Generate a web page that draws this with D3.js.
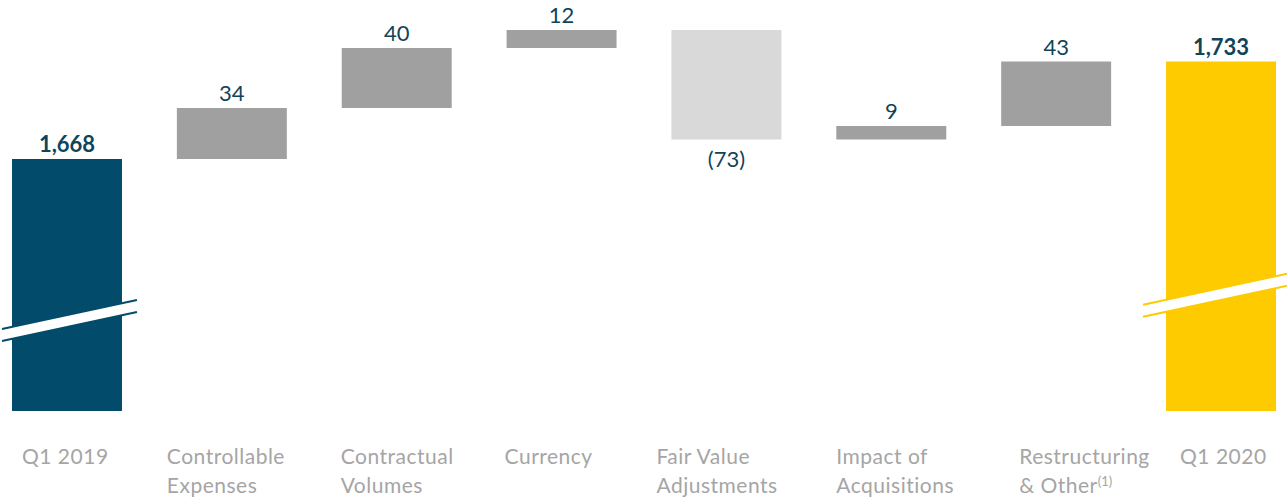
<!DOCTYPE html>
<html>
<head>
<meta charset="utf-8">
<script src="https://cdn.jsdelivr.net/npm/d3@7"></script>
<style>
  body { margin: 0; background: #fff; }
  text { font-family: Lato, "Open Sans", sans-serif; }
</style>
</head>
<body>
<div id="chart"></div>
<script>
// chart data
var categories = ["Q1 2019", "Controllable Expenses", "Contractual Volumes", "Currency",
                  "Fair Value Adjustments", "Impact of Acquisitions", "Restructuring & Other", "Q1 2020"];
var labelLines = [["Q1 2019"], ["Controllable", "Expenses"], ["Contractual", "Volumes"], ["Currency"],
                  ["Fair Value", "Adjustments"], ["Impact of", "Acquisitions"], ["Restructuring", "& Other"], ["Q1 2020"]];
var values = [1668, 34, 40, 12, -73, 9, 43, 1733];
var kinds = ["start", "delta", "delta", "delta", "delta", "delta", "delta", "end"];
var valueLabels = ["1,668", "34", "40", "12", "(73)", "9", "43", "1,733"];
var breakValues = [1560, null, null, null, null, null, null, 1578];

var W = 1287, H = 498;
var svg = d3.select("#chart").append("svg").attr("width", W).attr("height", H);

var x = d3.scaleBand().domain(categories).range([12, 1276]).paddingInner(0.333).paddingOuter(0);
var y = d3.scaleLinear().domain([1500, 1770]).range([411, 6]);

// build waterfall rows
var run = 0;
var rows = categories.map(function (c, i) {
  var v = values[i], lo, hi;
  if (kinds[i] == "delta") {
    lo = Math.min(run, run + v); hi = Math.max(run, run + v);
    run += v;
  } else {
    lo = 1500; hi = v; run = v;
  }
  return { cat: c, i: i, v: v, lo: lo, hi: hi, kind: kinds[i] };
});

function barColor(d) {
  if (d.kind == "start") return "#034b6a";
  if (d.kind == "end") return "#fecb00";
  return d.v < 0 ? "#d9d9d9" : "#a0a0a0";
}

svg.selectAll("rect.bar")
  .data(rows)
  .enter()
    .append("rect")
    .attr("class", "bar")
    .attr("x", function (d) { return x(d.cat); })
    .attr("width", x.bandwidth())
    .attr("y", function (d) { return y(d.hi); })
    .attr("height", function (d) { return y(d.lo) - y(d.hi); })
    .attr("fill", barColor);

// value labels
svg.selectAll("text.val")
  .data(rows)
  .enter()
    .append("text")
    .attr("class", "val")
    .attr("x", function (d) { return x(d.cat) + x.bandwidth() / 2; })
    .attr("y", function (d) { return d.v < 0 ? y(d.lo) + 27 : y(d.hi) - 7; })
    .attr("text-anchor", "middle")
    .attr("font-size", 22)
    .attr("font-weight", function (d) { return d.kind == "delta" ? "normal" : "bold"; })
    .attr("fill", "#0f4459")
    .text(function (d, i) { return valueLabels[i]; });

// axis break marks on the totals
var breakExt = { start: [-10, 15], end: [-23, 11] };
rows.filter(function (d) { return breakValues[d.i] != null; }).forEach(function (d) {
  var cy = y(breakValues[d.i]);
  var x0 = x(d.cat) + breakExt[d.kind][0], x1 = x(d.cat) + x.bandwidth() + breakExt[d.kind][1];
  var cx = x(d.cat) + x.bandwidth() / 2;
  var slope = -0.215, gap = 6;
  function ly(px, off) { return cy + off + (px - cx) * slope; }
  svg.append("polygon")
    .attr("points", [[x0, ly(x0, -gap)], [x1, ly(x1, -gap)], [x1, ly(x1, gap)], [x0, ly(x0, gap)]].join(" "))
    .attr("fill", "#fff");
  [-gap, gap].forEach(function (off) {
    svg.append("line")
      .attr("x1", x0).attr("y1", ly(x0, off))
      .attr("x2", x1).attr("y2", ly(x1, off))
      .attr("stroke", barColor(d)).attr("stroke-width", 2);
  });
});

// category labels (left aligned blocks under the bars)
var labelOffsets = [10, -10, -1, -2, -15, 0, 18, 14];
var cat = svg.selectAll("text.cat")
  .data(rows)
  .enter()
    .append("text")
    .attr("class", "cat")
    .attr("font-size", 21)
    .attr("letter-spacing", 0.5)
    .attr("fill", "#a5a5a5");

cat.each(function (d) {
  var t = d3.select(this);
  var lx = x(d.cat) + labelOffsets[d.i];
  labelLines[d.i].forEach(function (line, k) {
    t.append("tspan").attr("x", lx).attr("y", 464 + k * 29).text(line);
    if (d.cat == "Restructuring & Other" && k == 1) {
      t.append("tspan").attr("font-size", 13).attr("letter-spacing", 0).attr("dy", -7).text("(1)");
    }
  });
});
</script>
</body>
</html>
